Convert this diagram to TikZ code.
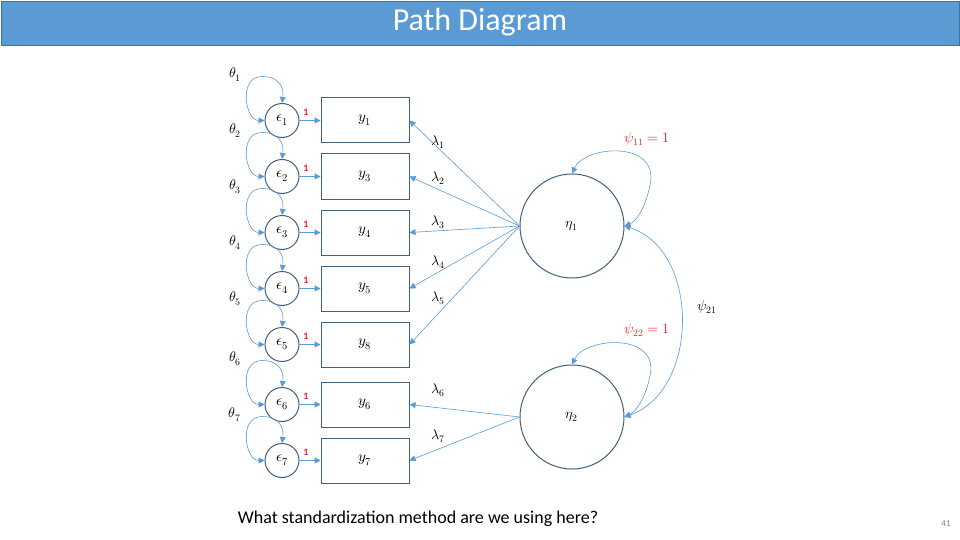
\documentclass[tikz,border=0pt]{standalone}
\usepackage{fontspec}
\setmainfont{Carlito}
\usepackage{unicode-math}
\setmathfont{Latin Modern Math}
\usetikzlibrary{arrows.meta}
\definecolor{tbar}{HTML}{5B9BD5}
\definecolor{tbord}{HTML}{41719C}
\definecolor{arr}{HTML}{5B9BD5}
\definecolor{shp}{HTML}{41607C}
\definecolor{rl}{HTML}{D9262B}
\begin{document}
\begin{tikzpicture}[x=1pt,y=-1pt,
  box/.style={draw=shp,line width=1pt,minimum width=88pt,minimum height=45pt,inner sep=0,font=\fontsize{15}{15}\selectfont},
  err/.style={draw=shp,line width=1pt,circle,minimum size=34pt,inner sep=0,font=\fontsize{15}{15}\selectfont},
  lat/.style={draw=shp,line width=1pt,circle,minimum size=104pt,inner sep=0,font=\fontsize{14}{14}\selectfont},
  path/.style={draw=arr,line width=0.6pt,-{Triangle[length=6pt,width=6pt]}},
  loop/.style={draw=arr,line width=0.6pt,{Triangle[length=6pt,width=6pt]}-{Triangle[length=6pt,width=6pt]}},
  lab/.style={font=\fontsize{14}{14}\selectfont},
  one/.style={text=rl,font=\bfseries\fontsize{10}{10}\selectfont}]
\useasboundingbox (0,0) rectangle (960,540);
\fill[white] (0,0) rectangle (960,540);
\node[draw=tbord,fill=tbar,line width=1pt,minimum width=958pt,minimum height=44pt,inner sep=0,anchor=north west] (bar) at (1,1) {};
\node[text=white,font=\fontsize{32}{32}\selectfont] (title) at (480,22) {Path Diagram};
\foreach \n/\yy/\lab/\k in {1/120.5/y_1/1,2/176.5/y_3/2,3/232.5/y_4/3,4/288.5/y_5/4,5/344.5/y_8/5,6/404.5/y_6/6,7/460.5/y_7/7}{
  \node[box] (y\n) at (365,\yy) {$\lab$};
  \node[err] (e\n) at (282,\yy) {$\epsilon_{\n}$};
  \node[lab] (t\n) at (235,\yy-46) {$\theta_{\n}$};
  \draw[path] (e\n) -- (y\n);
  \node[one] (o\n) at (306,\yy-8) {1};
  \draw[loop] (e\n.west) .. controls (245,\yy) and (238,\yy-44) .. (262,\yy-44) .. controls (280,\yy-44) and (284,\yy-32) .. (e\n.north);
}
\node[lat] (eta1) at (572,226) {$\eta_1$};
\node[lat] (eta2) at (572,417) {$\eta_2$};
\foreach \n in {1,...,5}{ \draw[path] (eta1.west) -- (y\n.east); }
\foreach \n in {6,7}{ \draw[path] (eta2.west) -- (y\n.east); }
\node[lab] (l1) at (438,142) {$\lambda_1$};
\node[lab] (l2) at (438,178) {$\lambda_2$};
\node[lab] (l3) at (438,222) {$\lambda_3$};
\node[lab] (l4) at (438,262) {$\lambda_4$};
\node[lab] (l5) at (438,298) {$\lambda_5$};
\node[lab] (l6) at (438,390) {$\lambda_6$};
\node[lab] (l7) at (438,436) {$\lambda_7$};
\draw[loop] (eta1.north) .. controls (585,145) and (660,140) .. (650,185) .. controls (645,210) and (635,222) .. (eta1.east);
\draw[loop] (eta2.north) .. controls (585,337) and (660,332) .. (650,376) .. controls (645,400) and (635,412) .. (eta2.east);
\draw[loop] (eta1.east) .. controls (700,250) and (700,390) .. (eta2.east);
\node[lab,text=rl] (p11) at (647,139) {$\psi_{11}=1$};
\node[lab,text=rl] (p22) at (647,330) {$\psi_{22}=1$};
\node[lab] (p21) at (707,307) {$\psi_{21}$};
\node[font=\fontsize{18}{18}\selectfont] (q) at (418,519) {What standardization method are we using here?};
\node[text=gray,font=\fontsize{9}{9}\selectfont] (pg) at (946,524) {41};
\end{tikzpicture}
\end{document}
